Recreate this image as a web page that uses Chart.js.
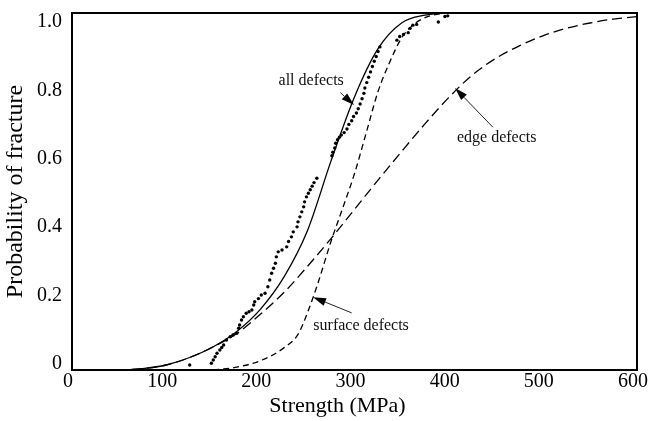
<!DOCTYPE html>
<html>
<head>
<meta charset="utf-8">
<script src="https://cdn.jsdelivr.net/npm/chart.js@4.4.1/dist/chart.umd.min.js"></script>
<style>
html, body { margin: 0; padding: 0; background: #fff; }
</style>
</head>
<body>
<canvas id="chartFratura" width="649" height="421"></canvas>
<script>
// eixos
var xTicks = [0, 100, 200, 300, 400, 500, 600];
var yTicks = [0, 0.2, 0.4, 0.6, 0.8, 1.0];

// curva "all defects" (linha cheia)
var allX = [0, 50, 75, 100, 125, 150, 175, 200, 225, 250, 275, 300, 325, 350, 375, 400, 600];
var allP = [0, 0, 0.004, 0.014, 0.035, 0.065, 0.108, 0.17, 0.26, 0.39, 0.585, 0.765, 0.9, 0.972, 0.994, 1, 1];

// curva "edge defects" (tracejado longo)
var edgeX = [0, 50, 75, 100, 125, 150, 175, 200, 225, 250, 275, 300, 325, 350, 375, 400, 425, 450, 475, 500, 525, 550, 575, 600];
var edgeP = [0, 0, 0.004, 0.014, 0.035, 0.065, 0.102, 0.156, 0.217, 0.29, 0.368, 0.45, 0.532, 0.612, 0.69, 0.763, 0.826, 0.873, 0.908, 0.936, 0.957, 0.972, 0.983, 0.99];

// curva "surface defects" (tracejado curto)
var surfX = [150, 175, 200, 225, 240, 250, 262, 275, 287, 300, 312, 325, 337, 350, 362, 375, 387, 400, 600];
var surfP = [0, 0.008, 0.026, 0.062, 0.1, 0.16, 0.25, 0.36, 0.45, 0.55, 0.66, 0.78, 0.86, 0.93, 0.966, 0.987, 0.996, 1, 1];

// pontos medidos
var dotX = [125, 148, 150, 152, 154, 157, 159, 161, 164, 168, 171, 175, 177, 178, 180, 182, 185, 188, 191, 193,
            194, 198, 201, 205, 208, 210, 212, 214, 216, 217, 219, 223, 228, 230, 233, 235, 239, 240, 242, 244,
            246, 247, 249, 251, 253, 255, 257, 260, 276, 277, 279, 280, 282, 284, 286, 289, 292, 294, 297, 299,
            302, 304, 306, 308, 310, 311, 313, 315, 317, 319, 321, 323, 325, 327, 345, 348, 352, 357, 359, 362,
            366, 389, 396, 399];
var dotP = [0.014, 0.019, 0.028, 0.037, 0.047, 0.056, 0.063, 0.07, 0.084, 0.093, 0.098, 0.103, 0.117, 0.126, 0.14, 0.149, 0.159, 0.163, 0.168, 0.182,
            0.191, 0.2, 0.21, 0.215, 0.233, 0.252, 0.271, 0.285, 0.299, 0.317, 0.331, 0.336, 0.345, 0.36, 0.373, 0.387, 0.401, 0.415, 0.429, 0.443,
            0.457, 0.471, 0.485, 0.495, 0.505, 0.515, 0.525, 0.537, 0.6, 0.61, 0.622, 0.635, 0.645, 0.652, 0.658, 0.665, 0.675, 0.688, 0.698, 0.71,
            0.72, 0.732, 0.745, 0.76, 0.775, 0.79, 0.805, 0.82, 0.835, 0.85, 0.865, 0.878, 0.892, 0.905, 0.924, 0.934, 0.94, 0.945, 0.957, 0.966,
            0.968, 0.975, 0.99, 0.992];

// rotulos com seta (em unidades dos eixos)
var notas = [
    { text: 'all defects', tx: 254, ty: 0.81, fx: 285, fy: 0.777, ax: 299.5, ay: 0.742 },
    { text: 'edge defects', tx: 451, ty: 0.65, fx: 447, fy: 0.68, ax: 406.7, ay: 0.79 },
    { text: 'surface defects', tx: 307, ty: 0.123, fx: 297, fy: 0.16, ax: 256, ay: 0.204 }
];

function pontos(xs, ys) {
    return xs.map(function (x, i) { return { x: x, y: ys[i] }; });
}

var serif = 'Liberation Serif, Times New Roman, serif';

// moldura, titulo do eixo x e anotacoes
var molduraPlugin = {
    id: 'moldura',
    afterDatasetsDraw: function (chart) {
        var ctx = chart.ctx;
        var a = chart.chartArea;
        var sx = chart.scales.x, sy = chart.scales.y;
        ctx.save();
        ctx.strokeStyle = '#000';
        ctx.lineWidth = 2;
        ctx.strokeRect(a.left, a.top, a.right - a.left, a.bottom - a.top);

        // titulo do eixo x (no original fica um pouco a esquerda do centro)
        ctx.fillStyle = '#000';
        ctx.font = '22px ' + serif;
        ctx.textAlign = 'center';
        ctx.textBaseline = 'middle';
        ctx.fillText('Strength (MPa)', (a.left + a.right) / 2 - 17, a.bottom + 36);

        ctx.font = '16px ' + serif;
        notas.forEach(function (n) {
            ctx.fillStyle = '#111';
            ctx.fillText(n.text, sx.getPixelForValue(n.tx), sy.getPixelForValue(n.ty));
            var x0 = sx.getPixelForValue(n.fx), y0 = sy.getPixelForValue(n.fy);
            var x1 = sx.getPixelForValue(n.ax), y1 = sy.getPixelForValue(n.ay);
            var ang = Math.atan2(y1 - y0, x1 - x0);
            var len = 13, w = 4;
            var bx = x1 - len * Math.cos(ang), by = y1 - len * Math.sin(ang);
            ctx.strokeStyle = '#222';
            ctx.lineWidth = 1;
            ctx.beginPath();
            ctx.moveTo(x0, y0);
            ctx.lineTo(bx, by);
            ctx.stroke();
            ctx.beginPath();
            ctx.moveTo(x1, y1);
            ctx.lineTo(bx + w * Math.sin(ang), by - w * Math.cos(ang));
            ctx.lineTo(bx - w * Math.sin(ang), by + w * Math.cos(ang));
            ctx.closePath();
            ctx.fillStyle = '#000';
            ctx.fill();
        });
        ctx.restore();
    }
};

var ctxFratura = document.getElementById('chartFratura');

new Chart(ctxFratura, {
    type: 'scatter',
    data: {
        datasets: [{
            label: 'all defects',
            data: pontos(allX, allP),
            showLine: true,
            borderColor: '#000',
            borderWidth: 1.3,
            pointRadius: 0,
            cubicInterpolationMode: 'monotone'
        }, {
            label: 'edge defects',
            data: pontos(edgeX, edgeP),
            showLine: true,
            borderColor: '#000',
            borderWidth: 1.3,
            borderDash: [10, 5],
            pointRadius: 0,
            cubicInterpolationMode: 'monotone'
        }, {
            label: 'surface defects',
            data: pontos(surfX, surfP),
            showLine: true,
            borderColor: '#000',
            borderWidth: 1.3,
            borderDash: [6, 4],
            pointRadius: 0,
            cubicInterpolationMode: 'monotone'
        }, {
            label: 'medidos',
            data: pontos(dotX, dotP),
            showLine: false,
            pointRadius: 1.7,
            pointBorderWidth: 0,
            pointBackgroundColor: '#000'
        }]
    },
    options: {
        responsive: false,
        animation: false,
        layout: { padding: { left: 0, right: 12, top: 13, bottom: 0 } },
        plugins: {
            legend: { display: false },
            tooltip: { enabled: false }
        },
        scales: {
            x: {
                type: 'linear',
                min: 0,
                max: 600,
                grid: { display: false, drawTicks: false },
                border: { display: false },
                afterBuildTicks: function (s) { s.ticks = xTicks.map(function (v) { return { value: v }; }); },
                afterFit: function (s) { s.height = 51; s.paddingLeft = 0; s.paddingRight = 0; },
                ticks: { padding: 0, labelOffset: -4, color: '#000', maxRotation: 0, font: { family: serif, size: 20 } }
            },
            y: {
                display: false,
                min: 0,
                max: 1
            },
            // eixo so para os rotulos (no original ficam deslocados para dentro)
            yl: {
                position: 'left',
                min: -0.0175,
                max: 1.0263,
                grid: { display: false, drawTicks: false },
                border: { display: false },
                afterBuildTicks: function (s) { s.ticks = yTicks.map(function (v) { return { value: v }; }); },
                afterFit: function (s) { s.width = 72; s.paddingTop = 0; s.paddingBottom = 0; },
                ticks: {
                    padding: 10,
                    color: '#000',
                    font: { family: serif, size: 20 },
                    callback: function (v) { return v === 0 ? '0' : v.toFixed(1); }
                },
                title: {
                    display: true,
                    text: 'Probability of fracture',
                    color: '#000',
                    font: { family: serif, size: 24 },
                    padding: { top: 1, bottom: 0 }
                }
            }
        }
    },
    plugins: [molduraPlugin]
});
</script>
</body>
</html>
